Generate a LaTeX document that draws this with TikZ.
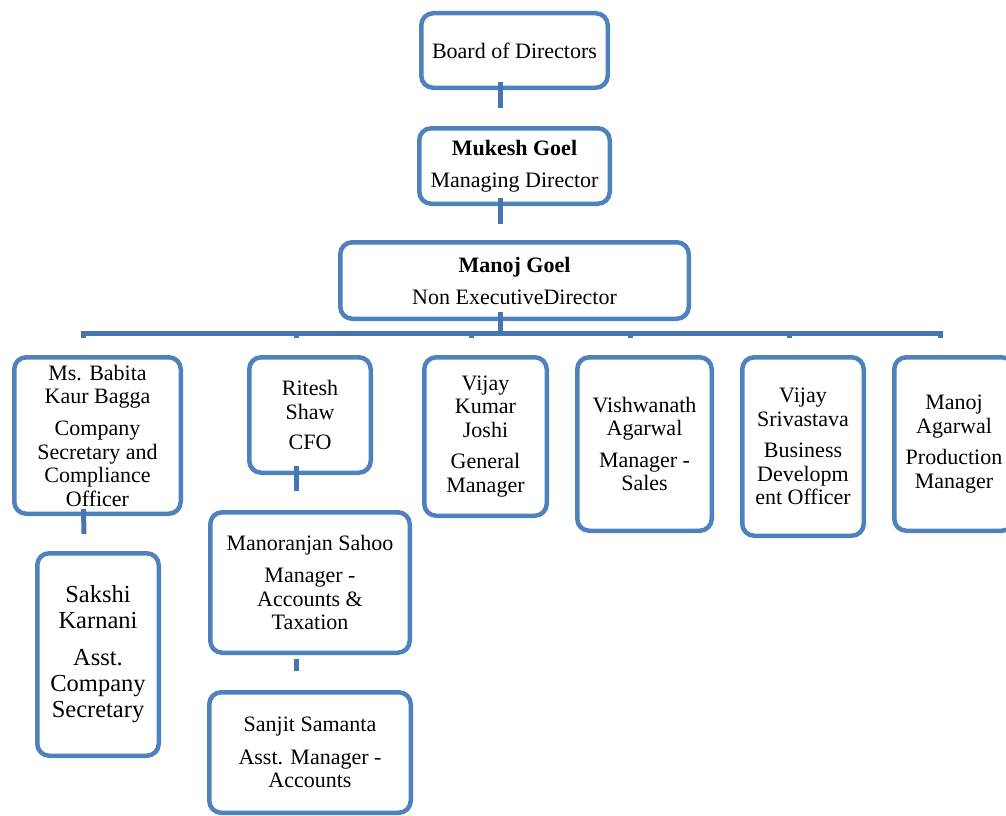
\documentclass[tikz,border=0pt]{standalone}
\usepackage{fontspec}
\setmainfont{Liberation Serif}
\usepackage{xcolor}
\usepackage{tikz}

\definecolor{boxblue}{HTML}{4F81BD}
\definecolor{linkblue}{HTML}{4775AE}

\begin{document}
\begin{tikzpicture}[x=1pt, y=-1pt, box/.style ={draw = boxblue, line width=4.5pt, rounded corners=12pt, inner sep=0pt, align=center, text = black, font=\fontsize{22}{23.5}\selectfont}, link/.style={draw = linkblue, line width=5pt}]
	\useasboundingbox (0,0) rectangle (1006,816);
	% top of the chart
	\node[box, minimum width=186.5pt, minimum height=74.5pt] (bod) at (514.5,50.5) {Board of Directors};
	\node[box, minimum width=190.5pt, minimum height=75.5pt] (md) at (514.5,166) {\textbf{Mukesh Goel}\\[8.5pt]Managing Director};
	\node[box, minimum width=348.5pt, minimum height=76.5pt] (ned) at (514.5,280.5) {\textbf{Manoj Goel}\\[8.5pt]Non ExecutiveDirector};
	% second row
	\node[box, minimum width=166.5pt, minimum height=156.5pt] (babita) at (97.5,435.5) {Ms. Babita\\Kaur Bagga\\[8.5pt]Company\\Secretary and\\Compliance\\Officer};
	\node[box, minimum width=121.5pt, minimum height=115.5pt] (ritesh) at (310,415) {Ritesh\\Shaw\\[7pt]CFO};
	\node[box, minimum width=122.5pt, minimum height=158.5pt] (vijayk) at (485.5,436.5) {Vijay\\Kumar\\Joshi\\[8pt]General\\Manager};
	\node[box, minimum width=134.5pt, minimum height=173.5pt] (vishwa) at (644.5,444) {Vishwanath\\Agarwal\\[8pt]Manager -\\Sales};
	\node[box, minimum width=121.5pt, minimum height=178.5pt] (srivas) at (803,446.5) {Vijay\\Srivastava\\[8pt]Business\\Developm\\ent Officer};
	\node[box, minimum width=119.5pt, minimum height=173.5pt] (manoja) at (954,444) {Manoj\\Agarwal\\[8pt]Production\\Manager};
	% lower boxes
	\node[box, minimum width=121.5pt, minimum height=202.5pt, font=\fontsize{24.5}{26}\selectfont] (sakshi) at (98,654.5) {Sakshi\\Karnani\\[11pt]Asst.\\Company\\Secretary};
	\node[box, minimum width=199.5pt, minimum height=140.5pt] (manor) at (310,582.5) {Manoranjan Sahoo\\[9pt]Manager -\\Accounts \&\\Taxation};
	\node[box, minimum width=201.5pt, minimum height=120.5pt] (sanjit) at (310,752.5) {Sanjit Samanta\\[9pt]Asst. Manager -\\Accounts};
	% connectors
	\path[link] ([xshift=-14pt,yshift=8pt]bod.south) edge ([xshift=-14pt,yshift=18pt]md.north)
	([xshift=-14pt,yshift=8pt]md.south) edge ([xshift=-14pt,yshift=16pt]ned.north)
	([xshift=-14pt,yshift=7pt]babita.south) edge ([xshift=-14pt,yshift=17pt]sakshi.north)
	([xshift=-14pt,yshift=9pt]ritesh.south) edge ([xshift=-14pt,yshift=19pt]manor.north)
	([xshift=-14pt,yshift=-4pt]manor.south) edge ([xshift=-14pt,yshift=19pt]sanjit.north);
	\coordinate (bus) at (0,333);
	\coordinate (ned-out) at ([xshift=-14pt,yshift=9pt]ned.south);
	\foreach \n in {babita,ritesh,vijayk,vishwa,srivas,manoja}
		\coordinate (\n-in) at ([xshift=-14pt,yshift=17pt]\n.north);
	\draw[link] (babita-in) |- (bus -| manoja-in) -- (manoja-in);
	\draw[link] (ned-out) -- (ned-out |- bus);
	\foreach \n in {ritesh,vijayk,vishwa,srivas}
		\draw[link] (\n-in) -- (\n-in |- bus);
\end{tikzpicture}
\end{document}
